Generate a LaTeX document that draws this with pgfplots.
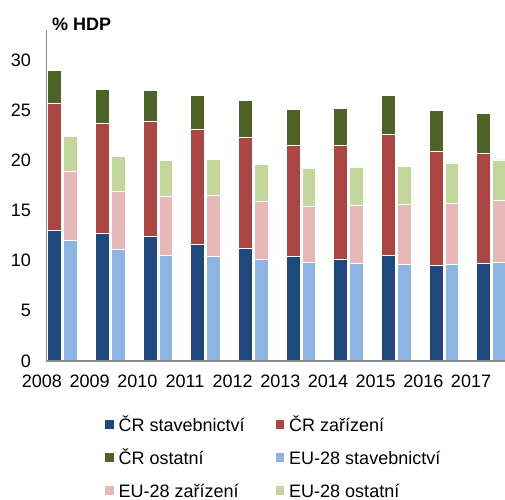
\documentclass[border=0pt]{standalone}
\usepackage{fontspec}
\setmainfont{Liberation Sans}
\usepackage{pgfplots}
\pgfplotsset{compat=1.18}
\usepackage{pgfplotstable}
\definecolor{crS}{HTML}{1F497D}
\definecolor{crZ}{HTML}{A94643}
\definecolor{crO}{HTML}{4F6228}
\definecolor{euS}{HTML}{8EB4E3}
\definecolor{euZ}{HTML}{E6B9B8}
\definecolor{euO}{HTML}{C3D69B}
\definecolor{axgray}{HTML}{898989}

% CR: x = category index + 0.17
\pgfplotstableread{
x s z o
0.17 13.0 12.7 3.3
1.17 12.7 11.0 3.4
2.17 12.4 11.5 3.1
3.17 11.6 11.5 3.35
4.17 11.2 11.1 3.7
5.17 10.4 11.1 3.6
6.17 10.1 11.4 3.7
7.17 10.5 12.1 3.9
8.17 9.5 11.4 4.1
9.17 9.7 11.0 4.0
}\tabCR
% EU-28: x = category index + 0.50
\pgfplotstableread{
x s z o
0.50 12.0 6.9 3.5
1.50 11.1 5.8 3.5
2.50 10.5 5.9 3.6
3.50 10.4 6.1 3.6
4.50 10.1 5.85 3.7
5.50 9.8 5.6 3.8
6.50 9.7 5.8 3.85
7.50 9.6 6.0 3.85
8.50 9.6 6.1 4.05
9.50 9.8 6.2 4.05
}\tabEU

\newcommand{\bigfont}{\fontsize{18bp}{21bp}\selectfont}

\pgfplotsset{
  base/.style={width=458.5bp, height=331bp, scale only axis,
    xmin=0, xmax=9.618, ymin=0, ymax=33,
    ybar stacked, bar width=0.29, at={(0,0)}, anchor=south west, clip=false},
  sq legend/.style={legend image code/.code={\fill[##1,draw=none] (0bp,-2bp) rectangle (8.5bp,7bp);}},
  barst/.style={draw=white, line width=0.5bp},
  axl/.style={axis lines*=left, axis line style={draw=axgray, line width=1.2bp, -}, major tick length=0pt},
}

\begin{document}
\begin{tikzpicture}
\useasboundingbox (-46.5bp,-139bp) rectangle (458.5bp,361bp);
\begin{axis}[base, axl,
  ytick={0,5,...,30},
  xtick={0.335,1.335,...,9.335},
  xticklabels={2008,2009,2010,2011,2012,2013,2014,2015,2016,2017},
  tick label style={font=\bigfont},
  /pgf/number format/assume math mode=true,
  yticklabel style={inner sep=0pt, anchor=east, xshift=-15.5bp},
  xticklabel style={inner sep=0pt, anchor=north, yshift=-14bp, xshift=-20.5bp},
  legend columns=2,
  legend cell align=left,
  legend style={draw=none, fill=none, at={(0,0)}, anchor=north west,
    xshift=58.5bp, yshift=-57bp, inner sep=0pt, font=\bigfont,
    nodes={inner sep=0pt, text height=13bp, text depth=4bp},
    row sep=16bp,
    /tikz/every odd column/.append style={column sep=5bp},
    /tikz/every even column/.append style={column sep=31bp}},
]
\addplot[barst, fill=crS, sq legend] table[x=x, y=s] {\tabCR};
\addlegendentry{ČR stavebnictví}
\addplot[barst, fill=crZ, sq legend] table[x=x, y=z] {\tabCR};
\addlegendentry{ČR zařízení}
\addplot[barst, fill=crO, sq legend] table[x=x, y=o] {\tabCR};
\addlegendentry{ČR ostatní}
\addlegendimage{fill=euS, sq legend}
\addlegendentry{EU-28 stavebnictví}
\addlegendimage{fill=euZ, sq legend}
\addlegendentry{EU-28 zařízení}
\addlegendimage{fill=euO, sq legend}
\addlegendentry{EU-28 ostatní}
\end{axis}
\begin{axis}[base, axl, axis on top, xtick=\empty, ytick=\empty]
\addplot[barst, fill=euS] table[x=x, y=s] {\tabEU};
\addplot[barst, fill=euZ] table[x=x, y=z] {\tabEU};
\addplot[barst, fill=euO] table[x=x, y=o] {\tabEU};
\end{axis}
\node[anchor=base west, inner sep=0pt, font=\bfseries\bigfont] at (5.5bp,330bp) {\% HDP};
\end{tikzpicture}
\end{document}
